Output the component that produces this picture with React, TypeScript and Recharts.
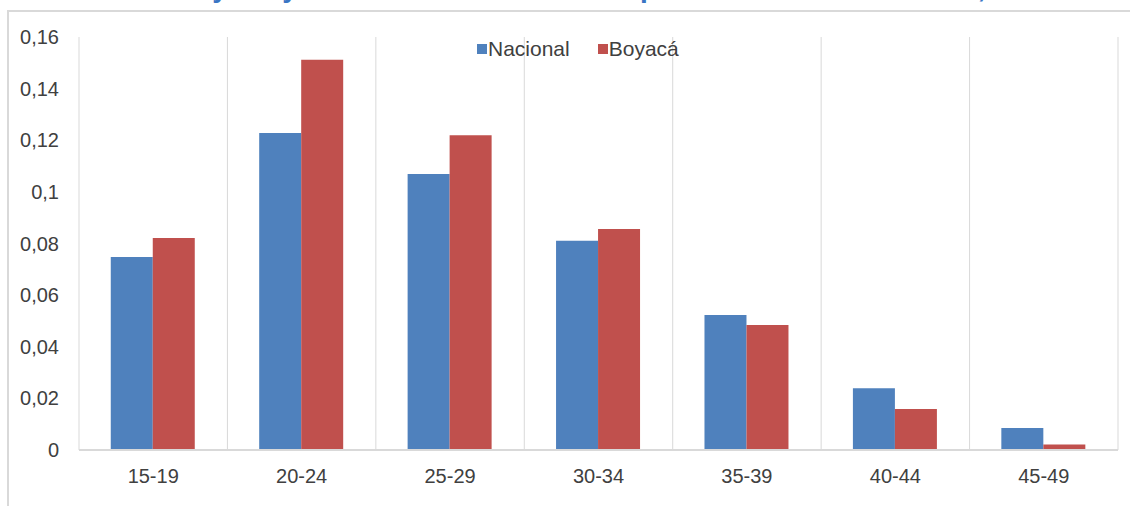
import { BarChart, Bar, XAxis, YAxis, CartesianGrid, Legend } from 'recharts';

const AGE_GROUPS = ['15-19', '20-24', '25-29', '30-34', '35-39', '40-44', '45-49'];
const NACIONAL = [0.0748, 0.1228, 0.1069, 0.0811, 0.0523, 0.0239, 0.0085];
const BOYACA = [0.0821, 0.1512, 0.1219, 0.0856, 0.0484, 0.0159, 0.0021];
const Y_TICKS = [0, 0.02, 0.04, 0.06, 0.08, 0.1, 0.12, 0.14, 0.16];

const SERIES = [
  { key: 'nacional', name: 'Nacional', color: '#4F81BD' },
  { key: 'boyaca', name: 'Boyacá', color: '#C0504D' },
];

const TITLE = 'Fecundidad Boyacá y Nacional durante todo el periodo censal estudiado, 2005 - 2018';

const data = AGE_GROUPS.map((group, i) => ({
  group,
  nacional: NACIONAL[i],
  boyaca: BOYACA[i],
}));

const FONT = '"Liberation Sans", Arial, sans-serif';
const TEXT = '#404040';
const GRID = '#D9D9D9';

const formatTick = (v: number) => String(v).replace('.', ',');

// grid lines sit on the category boundaries, not on the tick centres
const boundaryLines = ({ offset }: any) => {
  const step = offset.width / AGE_GROUPS.length;
  return AGE_GROUPS.map((_, i) => offset.left + i * step).concat(offset.left + offset.width);
};

function LegendRow() {
  return (
    <div style={{ display: 'flex', alignItems: 'center', fontFamily: FONT, fontSize: 21, lineHeight: '24px', color: TEXT }}>
      {SERIES.map((s) => (
        <span key={s.key} style={{ display: 'flex', alignItems: 'center', marginRight: 28 }}>
          <span style={{ width: 10, height: 10, background: s.color, marginRight: 1 }} />
          {s.name}
        </span>
      ))}
    </div>
  );
}

export default function App() {
  return (
    <div style={{ position: 'fixed', left: 0, top: 0, width: 1130, height: 506, background: '#fff', overflow: 'hidden', fontFamily: FONT }}>
      <div
        style={{
          position: 'absolute',
          left: 7,
          top: 10,
          width: 1200,
          height: 600,
          borderTop: `2px solid ${GRID}`,
          borderLeft: `2px solid ${GRID}`,
        }}
      />
      <svg width={1130} height={12} style={{ position: 'absolute', left: 0, top: 0 }}>
        <text x={10} y={-2.6} fontFamily={FONT} fontWeight="bold" fontSize={28} fill="#3A75C4">
          {TITLE}
        </text>
      </svg>
      <div style={{ position: 'absolute', left: 0, top: 0 }}>
        <BarChart
          width={1130}
          height={506}
          data={data}
          margin={{ top: 37, right: 12, bottom: 16, left: 9 }}
          barCategoryGap="21.4%"
          barGap={0}
        >
          <CartesianGrid horizontal={false} stroke={GRID} verticalCoordinatesGenerator={boundaryLines} />
          <XAxis
            dataKey="group"
            axisLine={{ stroke: GRID, strokeWidth: 2 }}
            tickLine={false}
            tickMargin={13}
            height={40}
            tick={{ fill: TEXT, fontSize: 20, fontFamily: FONT }}
          />
          <YAxis
            width={70}
            domain={[0, 0.16]}
            ticks={Y_TICKS}
            tickFormatter={formatTick}
            axisLine={false}
            tickLine={false}
            tickMargin={14}
            tick={{ fill: TEXT, fontSize: 20, fontFamily: FONT }}
          />
          <Legend
            verticalAlign="middle"
            align="center"
            content={<LegendRow />}
            wrapperStyle={{ top: 37, left: 477, width: 'auto' }}
          />
          {SERIES.map((s) => (
            <Bar key={s.key} dataKey={s.key} name={s.name} fill={s.color} isAnimationActive={false} />
          ))}
        </BarChart>
      </div>
    </div>
  );
}
